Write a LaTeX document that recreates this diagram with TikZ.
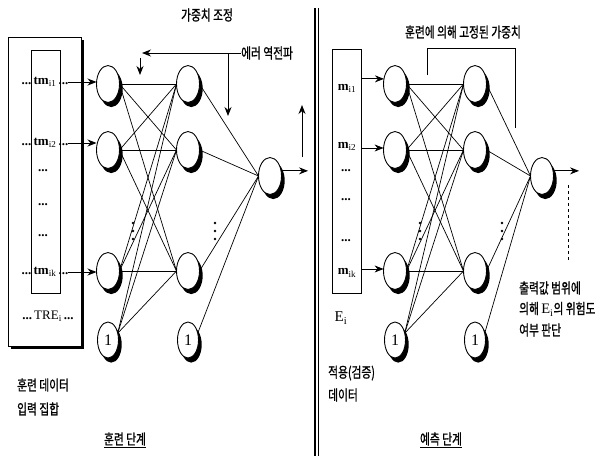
\documentclass[tikz,border=0pt]{standalone}
\usepackage{fontspec}
\setmainfont{Liberation Serif}
\newfontfamily\kr[FakeStretch=0.74,FakeBold=1]{Noto Sans CJK KR}
\usetikzlibrary{arrows.meta,shapes.geometric}
\newcommand\mydots{\textbf{...}}
\begin{document}
\begin{tikzpicture}[x=1pt,y=-1pt,
  neuron/.style={ellipse,draw,line width=0.9pt,fill=white,minimum width=23pt,minimum height=37pt,inner sep=0pt,outer sep=0pt},
  biasn/.style={neuron,minimum width=21pt,minimum height=36pt,font=\fontsize{16}{16}\selectfont},
  shdn/.style={ellipse,fill=black,draw=none,minimum width=23pt,minimum height=37pt,inner sep=0pt,outer sep=0pt,xshift=3.2pt,yshift=-4.6pt},
  shdb/.style={shdn,minimum width=21pt,minimum height=36pt},
  txt/.style={inner sep=0pt,font=\fontsize{13}{13}\selectfont},
  kor/.style={inner sep=0pt,font=\fontsize{14.5}{16}\selectfont\kr},
  arr/.style={line width=0.9pt,-{Stealth[length=9pt,width=7pt]}},
  wire/.style={line width=0.7pt}]
\newcommand\neu[3]{%
  \node[shdn] at (#2,#3) {};
  \node[neuron] (#1) at (#2,#3) {};}
\newcommand\bia[3]{%
  \node[shdb] at (#2,#3) {};
  \node[biasn] (#1) at (#2,#3) {1};}
\newcommand\vdt[2]{%
  \foreach \k in {-8,0,8}{\fill (#1,#2+\k) circle (1.4);}}
\useasboundingbox (0,0) rectangle (596,456);
\fill[white] (0,0) rectangle (596,456);

% ---------- left panel ----------
\fill (11,40) rectangle (84,349);
\draw[line width=0.9pt,fill=white] (8,37) rectangle (81,346);
\draw[line width=0.6pt] (31,50) rectangle (60,293);
\node[txt] (r1) at (45,82) {\mydots\,\textbf{tm}\textsubscript{i1}\,\mydots};
\node[txt] (r2) at (45,143) {\mydots\,\textbf{tm}\textsubscript{i2}\,\mydots};
\node[txt] (d1) at (43,171) {\mydots};
\node[txt] (d2) at (43,205) {\mydots};
\node[txt] (d3) at (43,236) {\mydots};
\node[txt] (r3) at (45,272) {\mydots\,\textbf{tm}\textsubscript{ik}\,\mydots};
\node[txt] (r4) at (48,316) {\mydots\,TRE\textsubscript{i}\,\mydots};

\neu{a1}{108}{84}
\neu{a2}{108}{150}
\neu{a3}{108}{271}
\bia{a0}{108}{340}
\neu{b1}{188}{84}
\neu{b2}{188}{150}
\neu{b3}{188}{271}
\bia{b0}{188}{340}
\neu{c}{270}{176}
\vdt{133}{231}
\vdt{215}{231}

\foreach \i in {a1,a2,a3}{\foreach \j in {b1,b2,b3}{\draw[wire] (\i.east) -- (\j.west);}}
\foreach \j in {b1,b2,b3}{\draw[wire] (a0.35) -- (\j.west);}
\foreach \i in {b1,b2,b3}{\draw[wire] (\i.east) -- (c.west);}
\draw[wire] (b0.35) -- (c.west);
\draw[arr] (r1.east) -- (r1.east -| a1.west);
\draw[arr] (r2.east) -- (r2.east -| a2.west);
\draw[arr] (r3.east) -- (r3.east -| a3.west);
\draw[arr] (c.25) -- ++(27,0);
\draw[arr] (302,157) -- (302,105);

\node[kor] (t1) at (207,15) {가중치 조정};
\node[kor,anchor=west] (t2) at (241,53) {에러 역전파};
\draw[arr] (t2.west) -- (142,53);
\draw[arr] (140,58) -- (140,75);
\draw[arr] (228,53) -- (228,116);

\node[kor,anchor=west] (t3) at (17,385) {훈련 데이터};
\node[kor,anchor=west] (t4) at (17,409) {입력 집합};
\node[kor] (t5) at (125,440) {\underline{훈련 단계}};

% ---------- divider ----------
\draw[line width=1.3pt] (315,8) -- (315,456);
\draw[line width=1.3pt] (318.5,8) -- (318.5,456);

% ---------- right panel ----------
\node[draw,line width=0.6pt,minimum width=29pt,minimum height=244pt,inner sep=0pt] (bx) at (346.5,171) {};
\node[txt] (m1) at (347,88) {\textbf{m}\textsubscript{i1}};
\node[txt] (m2) at (347,146) {\textbf{m}\textsubscript{i2}};
\node[txt] (e1) at (346,171) {\mydots};
\node[txt] (e2) at (346,200) {\mydots};
\node[txt] (e3) at (346,241) {\mydots};
\node[txt] (m3) at (347,273) {\textbf{m}\textsubscript{ik}};
\node[inner sep=0pt,font=\fontsize{15}{15}\selectfont] (ei) at (341,318) {E\textsubscript{i}};

\neu{p1}{395}{84}
\neu{p2}{395}{150}
\neu{p3}{395}{271}
\bia{p0}{395}{340}
\neu{q1}{475}{84}
\neu{q2}{475}{150}
\neu{q3}{475}{271}
\bia{q0}{475}{340}
\neu{o}{542}{176}
\vdt{420}{231}
\vdt{502}{231}

\foreach \i in {p1,p2,p3}{\foreach \j in {q1,q2,q3}{\draw[wire] (\i.east) -- (\j.west);}}
\foreach \j in {q1,q2,q3}{\draw[wire] (p0.35) -- (\j.west);}
\foreach \i in {q1,q2,q3}{\draw[wire] (\i.east) -- (o.west);}
\draw[wire] (q0.35) -- (o.west);
\draw[arr] (p1.155 -| bx.east) -- (p1.155);
\draw[arr] (p2.170 -| bx.east) -- (p2.170);
\draw[arr] (p3.170 -| bx.east) -- (p3.170);
\draw[arr] (o.25) -- ++(26,0);

\node[kor] (t6) at (463,32) {훈련에 의해 고정된 가중치};
\draw[line width=0.7pt] (427,75) -- (427,48) -- (515,48) -- (515,128);
\draw[line width=0.7pt,dashed] (568,185) -- (568,262);
\node[kor,anchor=west] (t7) at (519,288) {출력값 범위에};
\node[kor,anchor=west] (t8) at (519,309) {의해 {\rmfamily E\textsubscript{i}}의 위험도};
\node[kor,anchor=west] (t9) at (519,330) {여부 판단};
\node[kor,anchor=west] (t10) at (328,373) {적용(검증)};
\node[kor,anchor=west] (t11) at (328,395) {데이터};
\node[kor] (t12) at (441,440) {\underline{예측 단계}};
\end{tikzpicture}
\end{document}
